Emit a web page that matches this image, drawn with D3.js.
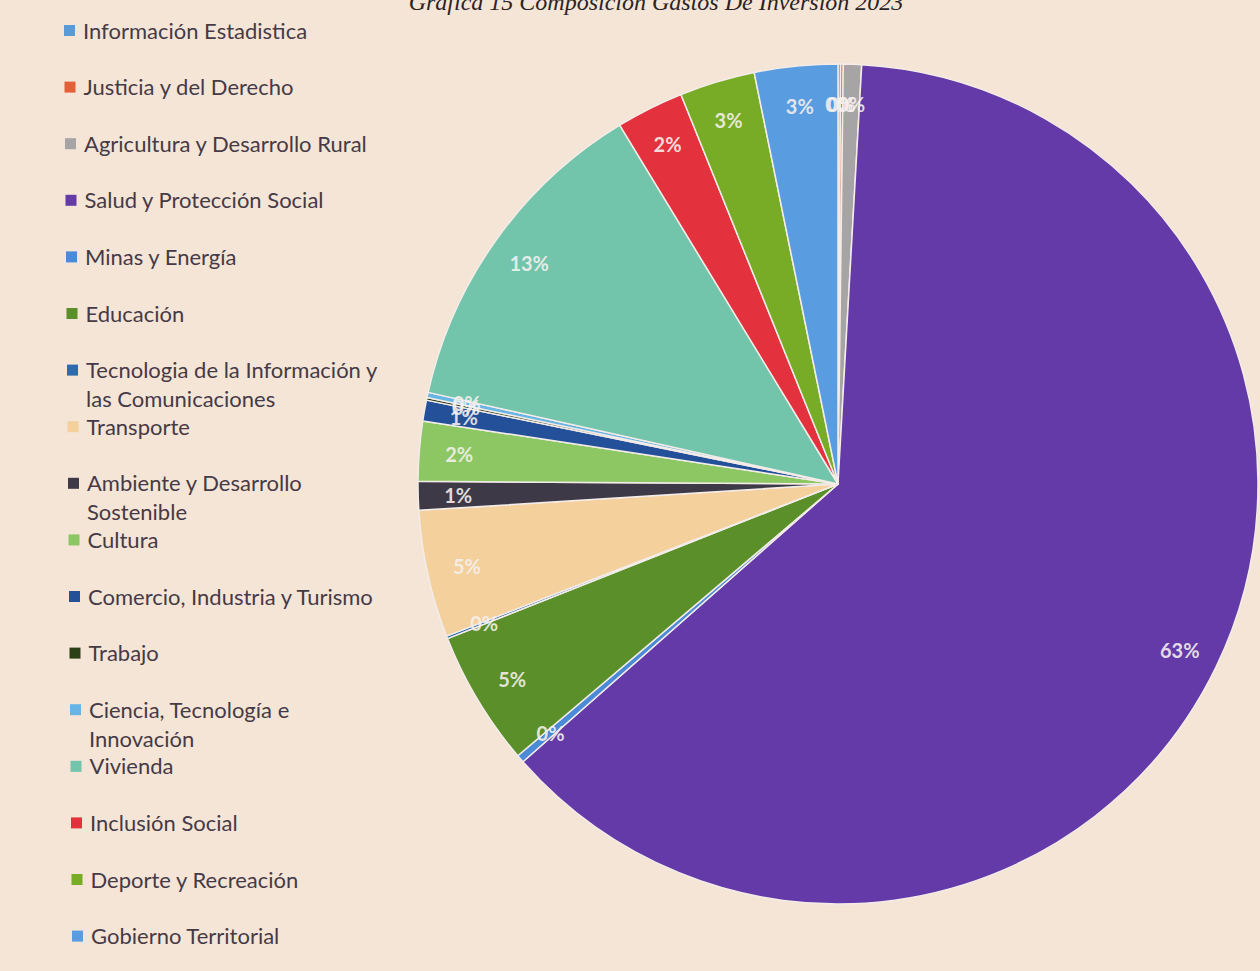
<!DOCTYPE html>
<html>
<head>
<meta charset="utf-8">
<script src="https://cdn.jsdelivr.net/npm/d3@7"></script>
<style>
  html, body { margin: 0; padding: 0; background: #f5e5d7; }
  svg { display: block; }
</style>
</head>
<body>
<svg id="chart" width="1260" height="971"></svg>
<script>
const title = "Gráfica 15 Composición Gastos De Inversión 2023";
const categories = [
  "Información Estadistica",
  "Justicia y del Derecho",
  "Agricultura y Desarrollo Rural",
  "Salud y Protección Social",
  "Minas y Energía",
  "Educación",
  "Tecnologia de la Información y las Comunicaciones",
  "Transporte",
  "Ambiente y Desarrollo Sostenible",
  "Cultura",
  "Comercio, Industria y Turismo",
  "Trabajo",
  "Ciencia, Tecnología e Innovación",
  "Vivienda",
  "Inclusión Social",
  "Deporte y Recreación",
  "Gobierno Territorial"
];
const legendLines = [
  ["Información Estadistica"],
  ["Justicia y del Derecho"],
  ["Agricultura y Desarrollo Rural"],
  ["Salud y Protección Social"],
  ["Minas y Energía"],
  ["Educación"],
  ["Tecnologia de la Información y", "las Comunicaciones"],
  ["Transporte"],
  ["Ambiente y Desarrollo", "Sostenible"],
  ["Cultura"],
  ["Comercio, Industria y Turismo"],
  ["Trabajo"],
  ["Ciencia, Tecnología e", "Innovación"],
  ["Vivienda"],
  ["Inclusión Social"],
  ["Deporte y Recreación"],
  ["Gobierno Territorial"]
];
const values = [0.1, 0.1, 0.7, 62.6, 0.3, 5.2, 0.1, 4.9, 1.1, 2.3, 0.8, 0.1, 0.2, 12.8, 2.6, 2.9, 3.2];
const labels = ["0%", "0%", "0%", "63%", "0%", "5%", "0%", "5%", "1%", "2%", "1%", "0%", "0%", "13%", "2%", "3%", "3%"];
const colors = [
  "#5b9bd5", "#e2603a", "#a7a4a6", "#6439a8", "#4a8ad6", "#5a8f29",
  "#2f6aae", "#f3d09c", "#3e3946", "#8cc763", "#24509a", "#2c4018",
  "#68b4e4", "#72c4aa", "#e3323e", "#78ac27", "#5a9ce0"
];

const svg = d3.select("#chart");
const cx = 838, cy = 484, R = 420;

svg.append("text")
  .attr("x", 656).attr("y", 10)
  .attr("text-anchor", "middle")
  .attr("font-family", "Liberation Serif, serif")
  .attr("font-style", "italic")
  .attr("font-size", 24)
  .attr("fill", "#2a2326")
  .text(title);

const pie = d3.pie().sort(null).value(d => d)(values);
const arc = d3.arc().innerRadius(0).outerRadius(R);
const labelArc = d3.arc().innerRadius(380).outerRadius(380);

const g = svg.append("g").attr("transform", `translate(${cx},${cy})`);
g.selectAll("path.slice").data(pie).enter().append("path")
  .attr("class", "slice")
  .attr("d", arc)
  .attr("fill", (d, i) => colors[i])
  .attr("stroke", "#f3ece8")
  .attr("stroke-width", 1.5)
  .attr("stroke-linejoin", "round");

g.selectAll("text.lbl").data(pie).enter().append("text")
  .attr("class", "lbl")
  .attr("transform", d => `translate(${labelArc.centroid(d)})`)
  .attr("text-anchor", "middle")
  .attr("dominant-baseline", "central")
  .attr("font-family", "Lato, 'Open Sans', sans-serif")
  .attr("font-weight", "bold")
  .attr("font-size", 20)
  .attr("fill", "#f6f1ee")
  .attr("fill-opacity", 0.88)
  .text((d, i) => labels[i]);

const lg = svg.append("g");
const y0 = 30, step = 56.6, lineH = 29;
categories.forEach((c, i) => {
  const y = y0 + i * step;
  const row = lg.append("g");
  row.append("rect")
    .attr("x", 64 + i * 0.5).attr("y", y - 5)
    .attr("width", 11).attr("height", 11)
    .attr("fill", colors[i]);
  legendLines[i].forEach((line, k) => {
    row.append("text")
      .attr("x", 83 + i * 0.5).attr("y", y + k * lineH)
      .attr("dominant-baseline", "central")
      .attr("font-family", "Lato, 'Open Sans', sans-serif")
      .attr("font-size", 22)
      .attr("fill", "#463a46")
      .text(line);
  });
});
</script>
</body>
</html>
